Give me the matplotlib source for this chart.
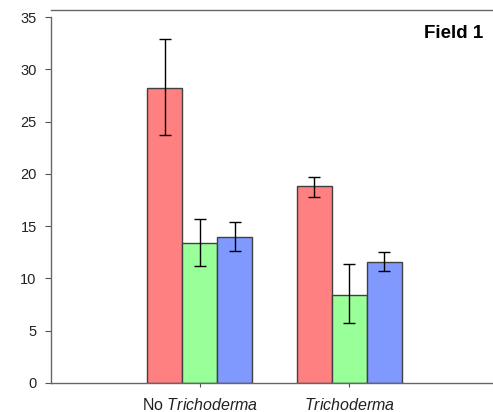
import numpy as np
import matplotlib
matplotlib.use('Agg')
import matplotlib.pyplot as plt

plt.rcParams['font.family'] = ['Liberation Sans', 'DejaVu Sans']
plt.rcParams['mathtext.fontset'] = 'custom'
plt.rcParams['mathtext.rm'] = 'Liberation Sans'
plt.rcParams['mathtext.it'] = 'Liberation Sans:italic'

groups = ['No $\\it{Trichoderma}$', '$\\it{Trichoderma}$']
red_vals = [28.2, 18.8]
red_lo = [23.7, 17.8]
red_hi = [32.9, 19.7]
green_vals = [13.4, 8.4]
green_lo = [11.2, 5.7]
green_hi = [15.7, 11.4]
blue_vals = [14.0, 11.6]
blue_lo = [12.6, 10.7]
blue_hi = [15.4, 12.5]
yticks = [0, 5, 10, 15, 20, 25, 30, 35]

fig = plt.figure(figsize=(4.93, 4.12), dpi=100)
ax = fig.add_axes([51/493, 29/412, 1 - 51/493, 373/412])

x = np.arange(len(groups))
w = 0.233
series = [(red_vals, red_lo, red_hi, '#ff8080'),
          (green_vals, green_lo, green_hi, '#99ff99'),
          (blue_vals, blue_lo, blue_hi, '#8099ff')]
for i, (vals, lo, hi, col) in enumerate(series):
    vals = np.array(vals)
    err = [vals - np.array(lo), np.array(hi) - vals]
    ax.bar(x + (i - 1) * w, vals, w, color=col, edgecolor='#404040',
           linewidth=1.0, zorder=2)
    ax.errorbar(x + (i - 1) * w, vals, yerr=err, fmt='none', ecolor='black',
                elinewidth=1.0, capsize=4, capthick=1.0, zorder=3)

ax.set_xlim(-0.993, 1.96)
ax.set_ylim(0, 35.67)
ax.set_yticks(yticks)
ax.set_xticks(x)
ax.set_xticklabels(groups, fontsize=11.5, color='#222222')
ax.tick_params(axis='y', labelsize=10.5, length=4.3, color='#555555',
               labelcolor='#222222', pad=6)
ax.tick_params(axis='x', length=3, color='#555555', pad=7)
for s in ['left', 'top', 'bottom']:
    ax.spines[s].set_color('#666666')
    ax.spines[s].set_linewidth(1.0)
ax.spines['left'].set_bounds(0, 35)
ax.spines['right'].set_visible(False)

fig.text(483/493, 1 - 33/412, 'Field 1', ha='right', va='center',
         fontsize=13.5, fontweight='bold')

fig.savefig('out.png', dpi=100)
